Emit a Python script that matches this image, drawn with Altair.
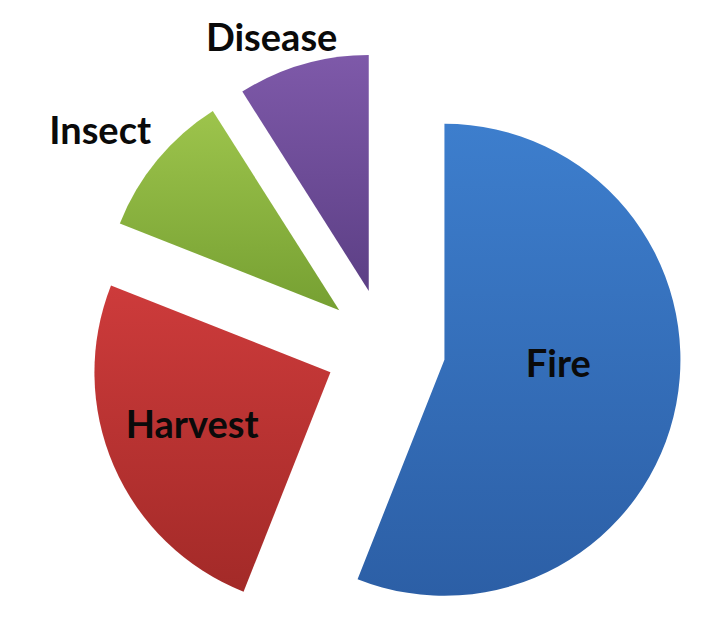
import altair as alt
import pandas as pd

# ---- data ----
categories = ["Fire", "Harvest", "Insect", "Disease"]
values = [56, 25, 10, 9]

# ---- style / layout (not data) ----
grad_top = {"Fire": "#3d7ecd", "Harvest": "#cd3b3b", "Insect": "#9dc44c", "Disease": "#7e59a9"}
grad_bottom = {"Fire": "#2c5fa6", "Harvest": "#a32a28", "Insect": "#76a032", "Disease": "#5c3f85"}
label_dist = {"Fire": 114, "Harvest": 148, "Insect": 299, "Disease": 271}
label_shift_deg = {"Fire": -8.5, "Harvest": 2.5, "Insect": -2.7, "Disease": -4.8}

CX, CY = 377.5, 340.5   # pie centre inside the chart
R = 236                 # pie radius
EXPLODE = 60            # explosion distance

df = pd.DataFrame({
    "category": categories,
    "value": values,
    "order": list(range(len(categories))),
    "ldist": [label_dist[c] for c in categories],
    "lshift": [label_shift_deg[c] for c in categories],
})

base = (
    alt.Chart(df)
    .transform_joinaggregate(total="sum(value)")
    .transform_window(cum="sum(value)", sort=[alt.SortField("order")], frame=[None, 0])
    .transform_calculate(
        start="2*PI*(datum.cum - datum.value)/datum.total",
        end="2*PI*datum.cum/datum.total",
    )
    .transform_calculate(mid="(datum.start + datum.end)/2")
    .transform_calculate(
        cx=f"{CX} + {EXPLODE}*sin(datum.mid)",
        cy=f"{CY} - {EXPLODE}*cos(datum.mid)",
        la="datum.mid + datum.lshift*PI/180",
    )
    .transform_calculate(
        lx="datum.cx + datum.ldist*sin(datum.la)",
        ly="datum.cy - datum.ldist*cos(datum.la)",
    )
)

layers = []
for cat in categories:
    grad = alt.Gradient(
        gradient="linear",
        stops=[
            alt.GradientStop(color=grad_top[cat], offset=0),
            alt.GradientStop(color=grad_bottom[cat], offset=1),
        ],
        x1=0, y1=0, x2=0, y2=1,
    )
    layers.append(
        base.transform_filter(alt.datum.category == cat)
        .mark_arc(outerRadius=R, innerRadius=0, color=grad, stroke=None)
        .encode(
            theta=alt.Theta("start:Q", scale=None, stack=None),
            theta2="end:Q",
            x=alt.X("cx:Q", scale=None),
            y=alt.Y("cy:Q", scale=None),
        )
    )

labels = base.mark_text(
    font="Lato", fontWeight="bold", fontSize=38, color="#0a0a0a",
    align="center", baseline="middle", dy=2,
).encode(
    x=alt.X("lx:Q", scale=None),
    y=alt.Y("ly:Q", scale=None),
    text="category:N",
)

chart = (
    alt.layer(*layers, labels)
    .properties(width=684, height=624, padding=0, background="white")
    .configure_view(stroke=None)
)

chart.save("out.html", embed_options={"renderer": "svg", "actions": False})
